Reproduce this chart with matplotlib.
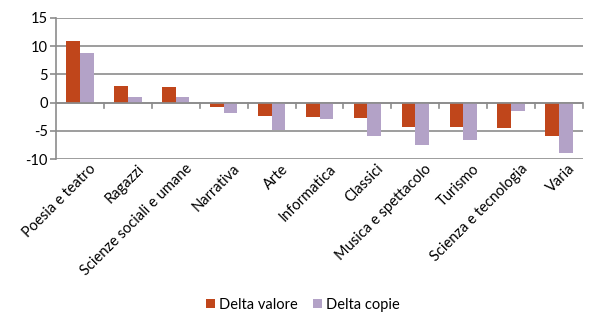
import matplotlib
matplotlib.use("Agg")
import matplotlib.pyplot as plt
import numpy as np

categories = ["Poesia e teatro", "Ragazzi", "Scienze sociali e umane", "Narrativa",
              "Arte", "Informatica", "Classici", "Musica e spettacolo", "Turismo",
              "Scienza e tecnologia", "Varia"]
delta_valore = [11.0, 2.9, 2.7, -0.7, -2.4, -2.5, -2.8, -4.3, -4.3, -4.5, -6.0]
delta_copie = [8.8, 1.0, 1.0, -1.8, -4.9, -2.9, -5.9, -7.5, -6.7, -1.5, -8.9]
series_names = ["Delta valore", "Delta copie"]
yticks = [-10, -5, 0, 5, 10, 15]

plt.rcParams['font.family'] = ['Lato', 'DejaVu Sans']

fig = plt.figure(figsize=(6, 3.29), dpi=100)
ax = fig.add_axes([0.0933, 0.5167, 0.8784, 0.4286])

red = "#C0461B"
purple = "#B3A2C7"
grid_c = "#8C8C8C"
fs = 10.5

x = np.arange(len(categories))
w = 1 / 3.5
ax.bar(x - w / 2, delta_valore, width=w, color=red, label=series_names[0], zorder=3)
ax.bar(x + w / 2, delta_copie, width=w, color=purple, label=series_names[1], zorder=3)

ax.set_xlim(-0.5, len(categories) - 0.5)
ax.set_ylim(-10, 15)
ax.set_yticks(yticks)
ax.set_yticklabels([str(v) for v in yticks], fontsize=fs)
ax.yaxis.grid(True, color=grid_c, linewidth=1.2, zorder=0)
ax.tick_params(axis='y', length=4, color=grid_c, width=1.2, pad=2)

for s in ["top", "right", "bottom"]:
    ax.spines[s].set_visible(False)
ax.spines["left"].set_color(grid_c)
ax.spines["left"].set_linewidth(1.2)

# x axis at zero with tick marks between categories
ax.axhline(0, color=grid_c, linewidth=1.2, zorder=4)
for b in np.arange(0.5, len(categories) - 0.5 + 1, 1.0):
    ax.plot([b, b], [0, -0.9], color=grid_c, linewidth=1.2, zorder=4, clip_on=False)

ax.set_xticks(x + 0.19)
ax.set_xticklabels(categories, rotation=45, ha='right', rotation_mode='anchor', fontsize=fs)
ax.tick_params(axis='x', length=0, pad=2)

leg = fig.legend(loc='center', bbox_to_anchor=(0.505, 0.073), ncol=2, frameon=False,
                 fontsize=fs, handlelength=0.6, handleheight=0.6, handletextpad=0.3,
                 columnspacing=1.0)

fig.savefig("out.png", dpi=100)
